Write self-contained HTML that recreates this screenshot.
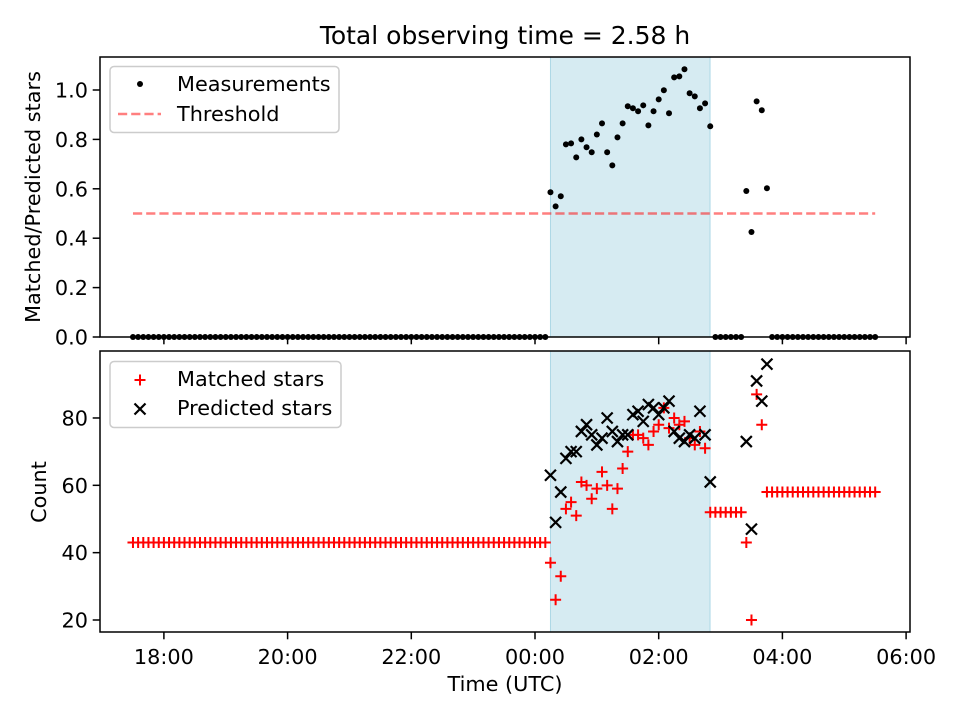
<!DOCTYPE html>
<html><head><meta charset="utf-8"><style>
body{margin:0;background:#fff;}
svg{font-family:"DejaVu Sans","Liberation Sans",sans-serif;}
</style></head><body>
<svg id="c" width="960" height="720" style="position:absolute;left:0;top:0" xmlns="http://www.w3.org/2000/svg"></svg>
<script>
// data: 5-minute samples starting 17:30 UTC (hours relative to midnight)
const startHour = -6.5;
const stepMin = 5;
const nPts = 145;
const ratioSegment = [0.586,0.529,0.57,0.78,0.784,0.727,0.80,0.768,0.748,0.82,0.865,0.748,0.695,0.808,0.865,0.934,0.926,0.914,0.938,0.857,0.914,0.962,0.999,0.906,1.051,1.055,1.084,0.987,0.974,0.926,0.946,0.853];
const ratioLate = [0.591,0.425,0.954,0.918,0.602];
const matchedSegment = [37,26,33,53,55,51,61,60,56,59,64,60,53,59,65,70,75,75,74,72,76,78,83,77,80,78,79,74,72,76,71,52];
const predictedSegment = [63,49,58,68,70,70,76,78,75,72,74,80,76,73,75,75,81,82,79,84,83,81,83,85,76,74,73,75,74,82,75,61];
const matchedLate = [43,20,87,78];
const predictedLate = [73,47,91,85,96];
const matchedBase = 43, matchedGap = 52, matchedTail = 58;
const segStart = 81, lateStart = 119;
const threshold = 0.5;
const shadeStart = 0.25, shadeEnd = 2.83;
const xTicks = [-6,-4,-2,0,2,4,6];
const xTickLabels = ["18:00","20:00","22:00","00:00","02:00","04:00","06:00"];
const yTopTicks = [0,0.2,0.4,0.6,0.8,1.0];
const yTopLabels = ["0.0","0.2","0.4","0.6","0.8","1.0"];
const yBotTicks = [20,40,60,80];
const yBotLabels = ["20","40","60","80"];

const times=[],ratio=[],matched=[],predicted=[];
for(let i=0;i<nPts;i++){
  times.push(startHour+i*stepMin/60);
  let r=0,m=null,p=null;
  if(i<segStart){m=matchedBase;}
  else if(i<segStart+ratioSegment.length){const k=i-segStart;r=ratioSegment[k];m=matchedSegment[k];p=predictedSegment[k];}
  else if(i<lateStart){m=matchedGap;}
  else if(i<lateStart+ratioLate.length){const k=i-lateStart;r=ratioLate[k];m=k<matchedLate.length?matchedLate[k]:matchedTail;p=predictedLate[k];}
  else {m=matchedTail;}
  ratio.push(r);matched.push(m);predicted.push(p);
}
const L=100,R=910,T1=57,B1=337,T2=351,B2=632;
const x=h=>535+(h)*61.85;
const yT=v=>337-v*247;
const yB=v=>620-(v-20)*3.367;
const svg=document.getElementById('c');
const NS='http://www.w3.org/2000/svg';
function el(tag,attrs,parent){const e=document.createElementNS(NS,tag);for(const k in attrs)e.setAttribute(k,attrs[k]);(parent||svg).appendChild(e);return e;}
function txt(s,attrs,parent){const e=el('text',attrs,parent);e.textContent=s;return e;}

[[T1,B1],[T2,B2]].forEach(([t,b],j)=>{
  const s=el('rect',{x:x(shadeStart),y:t,width:x(shadeEnd)-x(shadeStart),height:b-t,fill:'#add8e6','fill-opacity':0.5,stroke:'#add8e6'});
  
  
});
const th=el('line',{x1:x(times[0]),x2:x(times[nPts-1]),y1:yT(threshold),y2:yT(threshold),stroke:'#ff0000','stroke-opacity':0.5,'stroke-width':2.5,'stroke-dasharray':'9.2,4'});


const gM=el('g',{});


ratio.forEach((v,i)=>{const c=el('circle',{cx:x(times[i]),cy:yT(v),r:3,fill:'#000'},gM);

});
const gR=el('g',{stroke:'#ff0000','stroke-width':2});


matched.forEach((v,i)=>{if(v==null)return;const cx=x(times[i]),cy=yB(v);
const p=el('path',{d:`M${cx-5.5},${cy}h11M${cx},${cy-5.5}v11`},gR);

});
const gP=el('g',{stroke:'#000','stroke-width':2.2});


predicted.forEach((v,i)=>{if(v==null)return;const cx=x(times[i]),cy=yB(v);
const p=el('path',{d:`M${cx-5.5},${cy-5.5}l11,11M${cx-5.5},${cy+5.5}l11,-11`},gP);

});
[[T1,B1,'top-axes'],[T2,B2,'bottom-axes']].forEach(([t,b,n])=>{
  const f=el('rect',{x:L,y:t,width:R-L,height:b-t,fill:'none',stroke:'#000','stroke-width':1.5});
  
  
  xTicks.forEach((h,i)=>{const tk=el('line',{x1:x(h),x2:x(h),y1:b,y2:b+7.3,stroke:'#000','stroke-width':1.5});
  
  
  if(b===B2){const lb=txt(xTickLabels[i],{x:x(h),y:b+32,'font-size':20.8,'text-anchor':'middle'});
  
  }});
});
yTopTicks.forEach((v,i)=>{el('line',{x1:L-7.3,x2:L,y1:yT(v),y2:yT(v),stroke:'#000','stroke-width':1.5});
const lb=txt(yTopLabels[i],{x:L-12,y:yT(v)+7.5,'font-size':20.8,'text-anchor':'end'});

});
yBotTicks.forEach((v,i)=>{el('line',{x1:L-7.3,x2:L,y1:yB(v),y2:yB(v),stroke:'#000','stroke-width':1.5});
const lb=txt(yBotLabels[i],{x:L-12,y:yB(v)+7.5,'font-size':20.8,'text-anchor':'end'});

});
</script>
<svg width="960" height="720" style="position:absolute;left:0;top:0" xmlns="http://www.w3.org/2000/svg" font-family="DejaVu Sans, Liberation Sans, sans-serif">
<text x="505" y="44" font-size="25" text-anchor="middle">Total observing time = 2.58 h</text>
<text transform="translate(40,197) rotate(-90)" font-size="20.8" text-anchor="middle">Matched/Predicted stars</text>
<text transform="translate(46,492) rotate(-90)" font-size="20.8" text-anchor="middle">Count</text>
<text x="505" y="691" font-size="20.8" text-anchor="middle">Time (UTC)</text>
<g>
<rect x="110" y="66.5" width="229" height="66" rx="4" fill="#fff" fill-opacity="0.8" stroke="#ccc" stroke-width="1.5"/>
<circle cx="140" cy="84" r="3" fill="#000"/>
<text x="177" y="91" font-size="20.8">Measurements</text>
<line x1="118" x2="161" y1="114" y2="114" stroke="#ff0000" stroke-opacity="0.5" stroke-width="2.5" stroke-dasharray="9.2,4"/>
<text x="177" y="121" font-size="20.8">Threshold</text>
</g>
<g>
<rect x="110" y="361.5" width="231" height="66" rx="4" fill="#fff" fill-opacity="0.8" stroke="#ccc" stroke-width="1.5"/>
<path d="M134.5,380h11M140,374.5v11" stroke="#ff0000" stroke-width="2"/>
<text x="177" y="386" font-size="20.8">Matched stars</text>
<path d="M134.5,403.5l11,11M134.5,414.5l11,-11" stroke="#000" stroke-width="2.2"/>
<text x="177" y="415" font-size="20.8">Predicted stars</text>
</g>
</svg>
</body></html>
